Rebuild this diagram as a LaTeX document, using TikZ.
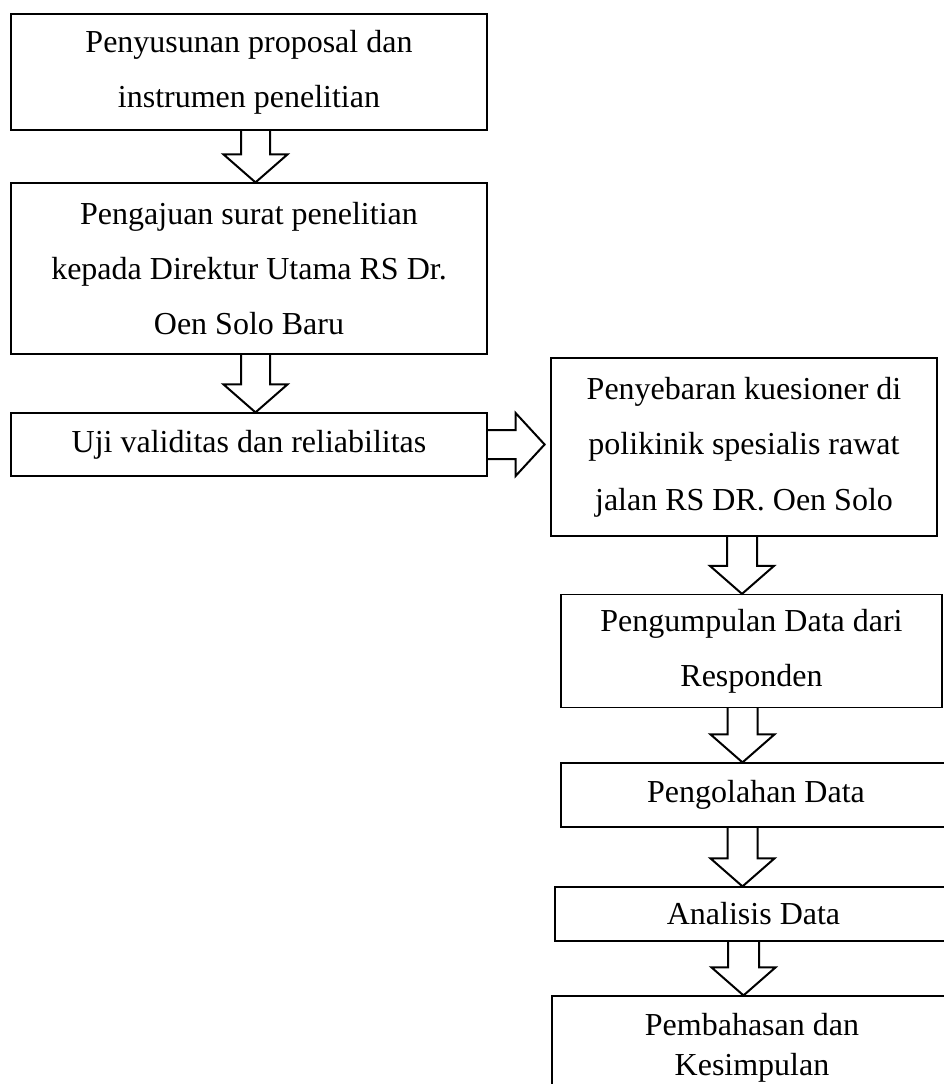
\documentclass[tikz,border=0pt]{standalone}
\usepackage{fontspec}
\setmainfont{Liberation Serif}
\usetikzlibrary{calc}
\newcommand\blkdown[4]{%
  \coordinate (ax) at (#3,0);
  \coordinate (aT) at (#1.south -| ax);
  \coordinate (aE) at (#2.north -| ax);
  \draw[blk] ($(aT)+(-#4,0)$) -- ($(aE)+(-#4,-28)$) -- ($(aE)+(-32,-28)$) -- (aE) -- ($(aE)+(32,-28)$) -- ($(aE)+(#4,-28)$) -- ($(aT)+(#4,0)$);}
\begin{document}
\begin{tikzpicture}[x=0.75pt,y=-0.75pt,
  box/.style={draw=black, line width=0.9pt, inner sep=0pt, align=center,
    font=\fontsize{24}{41.5}\selectfont},
  blk/.style={draw=black, line width=1.5pt, line join=miter}]
\useasboundingbox (0,0) rectangle (944,1084);
\clip (0,0) rectangle (944,1084);

\node[box, minimum width=357pt, minimum height=87pt] (b1) at (249,72)
  {Penyusunan proposal dan\\instrumen penelitian};
\node[box, minimum width=357pt, minimum height=128.25pt] (b2) at (249,268.5)
  {Pengajuan surat penelitian\\kepada Direktur Utama RS Dr.\\Oen Solo Baru};
\node[box, minimum width=357pt, minimum height=47.25pt] (b3) at (249,444.5)
  {Uji validitas dan reliabilitas};
\node[box, minimum width=289.5pt, minimum height=133.5pt] (b4) at (744,447)
  {Penyebaran kuesioner di\\polikinik spesialis rawat\\jalan RS DR. Oen Solo};
\node[box, minimum width=285.75pt, minimum height=84.75pt] (b5) at (751.5,651)
  {Pengumpulan Data dari\\Responden};
\node[box, minimum width=292.5pt, minimum height=48pt] (b6) at (756,795)
  {Pengolahan Data};
\node[box, minimum width=297.75pt, minimum height=40.5pt] (b7) at (753.5,914)
  {Analisis Data};
\node[box, minimum width=300pt, minimum height=78pt,
  font=\fontsize{24}{30}\selectfont] (b8) at (752,1048)
  {Pembahasan dan\\Kesimpulan};

\blkdown{b1}{b2}{255.5}{14.5}
\blkdown{b2}{b3}{255.5}{14.5}
\blkdown{b4}{b5}{742}{15}
\blkdown{b5}{b6}{742.5}{15}
\blkdown{b6}{b7}{742.5}{15}
\blkdown{b7}{b8}{743.5}{15.5}

\coordinate (rtip) at ($(b3.east)+(57,0)$);
\draw[blk] ($(b3.east)+(0,-14.5)$) -- ($(rtip)+(-29,-14.5)$) -- ($(rtip)+(-29,-31.5)$)
  -- (rtip) -- ($(rtip)+(-29,31.5)$) -- ($(rtip)+(-29,14.5)$) -- ($(b3.east)+(0,14.5)$);
\end{tikzpicture}
\end{document}
